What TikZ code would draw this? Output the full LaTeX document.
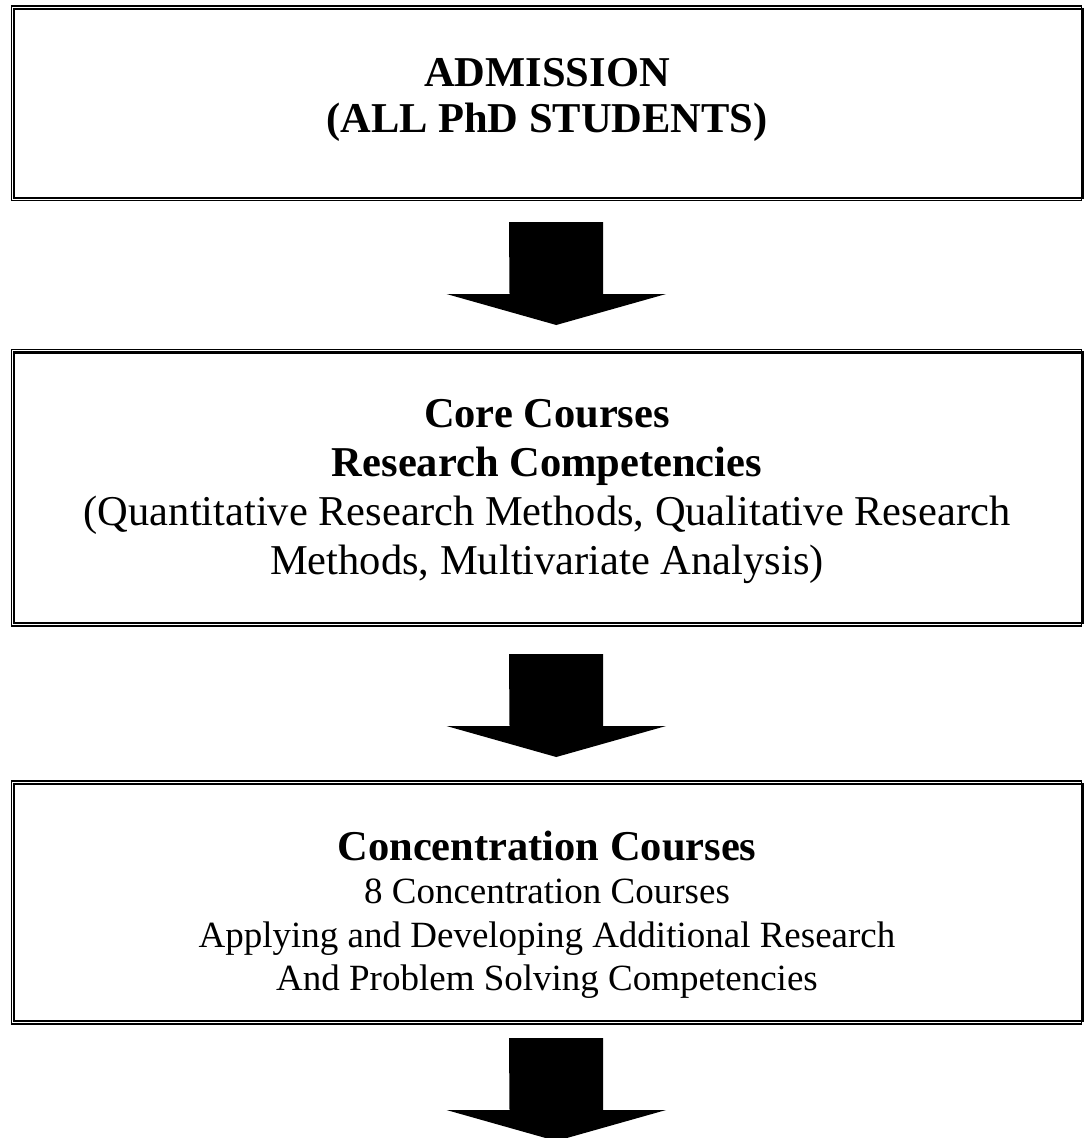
\documentclass[tikz,border=0pt]{standalone}
\usepackage{fontspec}
\setmainfont{Liberation Serif}
\usetikzlibrary{calc}

% stage boxes: thick inner frame is the node, thin outer frame drawn after
\tikzset{
  stage/.style={draw, line width=2.2pt, minimum width=1069.2pt, inner sep=0pt, outer sep=0pt},
  stagetext/.style={align=center, inner sep=0pt},
  frame/.style={line width=1.1pt},
  flow/.style={fill=black},
}

% block arrow under a stage box (#1 = box, #2 = gap below it)
\newcommand{\flowarrow}[2]{%
  \fill[flow] ($(#1.south)+(-39.4,#2)$) -- ++(94,0) -- ++(0,72) -- ++(63,0)
    -- ++(-109.75,31) -- ++(-109.75,-31) -- ++(63,0) -- cycle;}

\begin{document}
\begin{tikzpicture}[x=1pt, y=-1pt]
        \useasboundingbox (0,0) rectangle (1084,1138);
        \clip (0,0) rectangle (1084,1138);

        \node[stage, minimum height=188.7pt] (admit) at (548.4,103.35) {};
        \node[stage, minimum height=270.5pt] (core) at (548.4,487.75) {};
        \node[stage, minimum height=237pt] (conc) at (548.4,902.5) {};

        \foreach \b in {admit,core,conc}
          \draw[frame] ($(\b.north west)+(-2.3,-3)$) rectangle ($(\b.south east)+(-1.8,3)$);

        \node[stagetext, font=\fontsize{42.5}{46}\selectfont\bfseries] (admit-txt) at (547,100)
          {ADMISSION\\ (ALL PhD STUDENTS)};
        \node[stagetext, font=\fontsize{42.5}{49}\selectfont] (core-txt) at (547,492)
          {\bfseries Core Courses\\ \bfseries Research Competencies\\
           (Quantitative Research Methods, Qualitative Research\\
           Methods, Multivariate Analysis)};
        \node[stagetext, font=\fontsize{37}{43.5}\selectfont] (conc-txt) at (547,914.5)
          {\fontsize{42.5}{44}\selectfont\bfseries Concentration Courses\\
           8 Concentration Courses\\
           Applying and Developing Additional Research\\
           And Problem Solving Competencies};

        \flowarrow{admit}{24.3}
        \flowarrow{core}{31}
        \flowarrow{conc}{17}
      \end{tikzpicture}
\end{document}
